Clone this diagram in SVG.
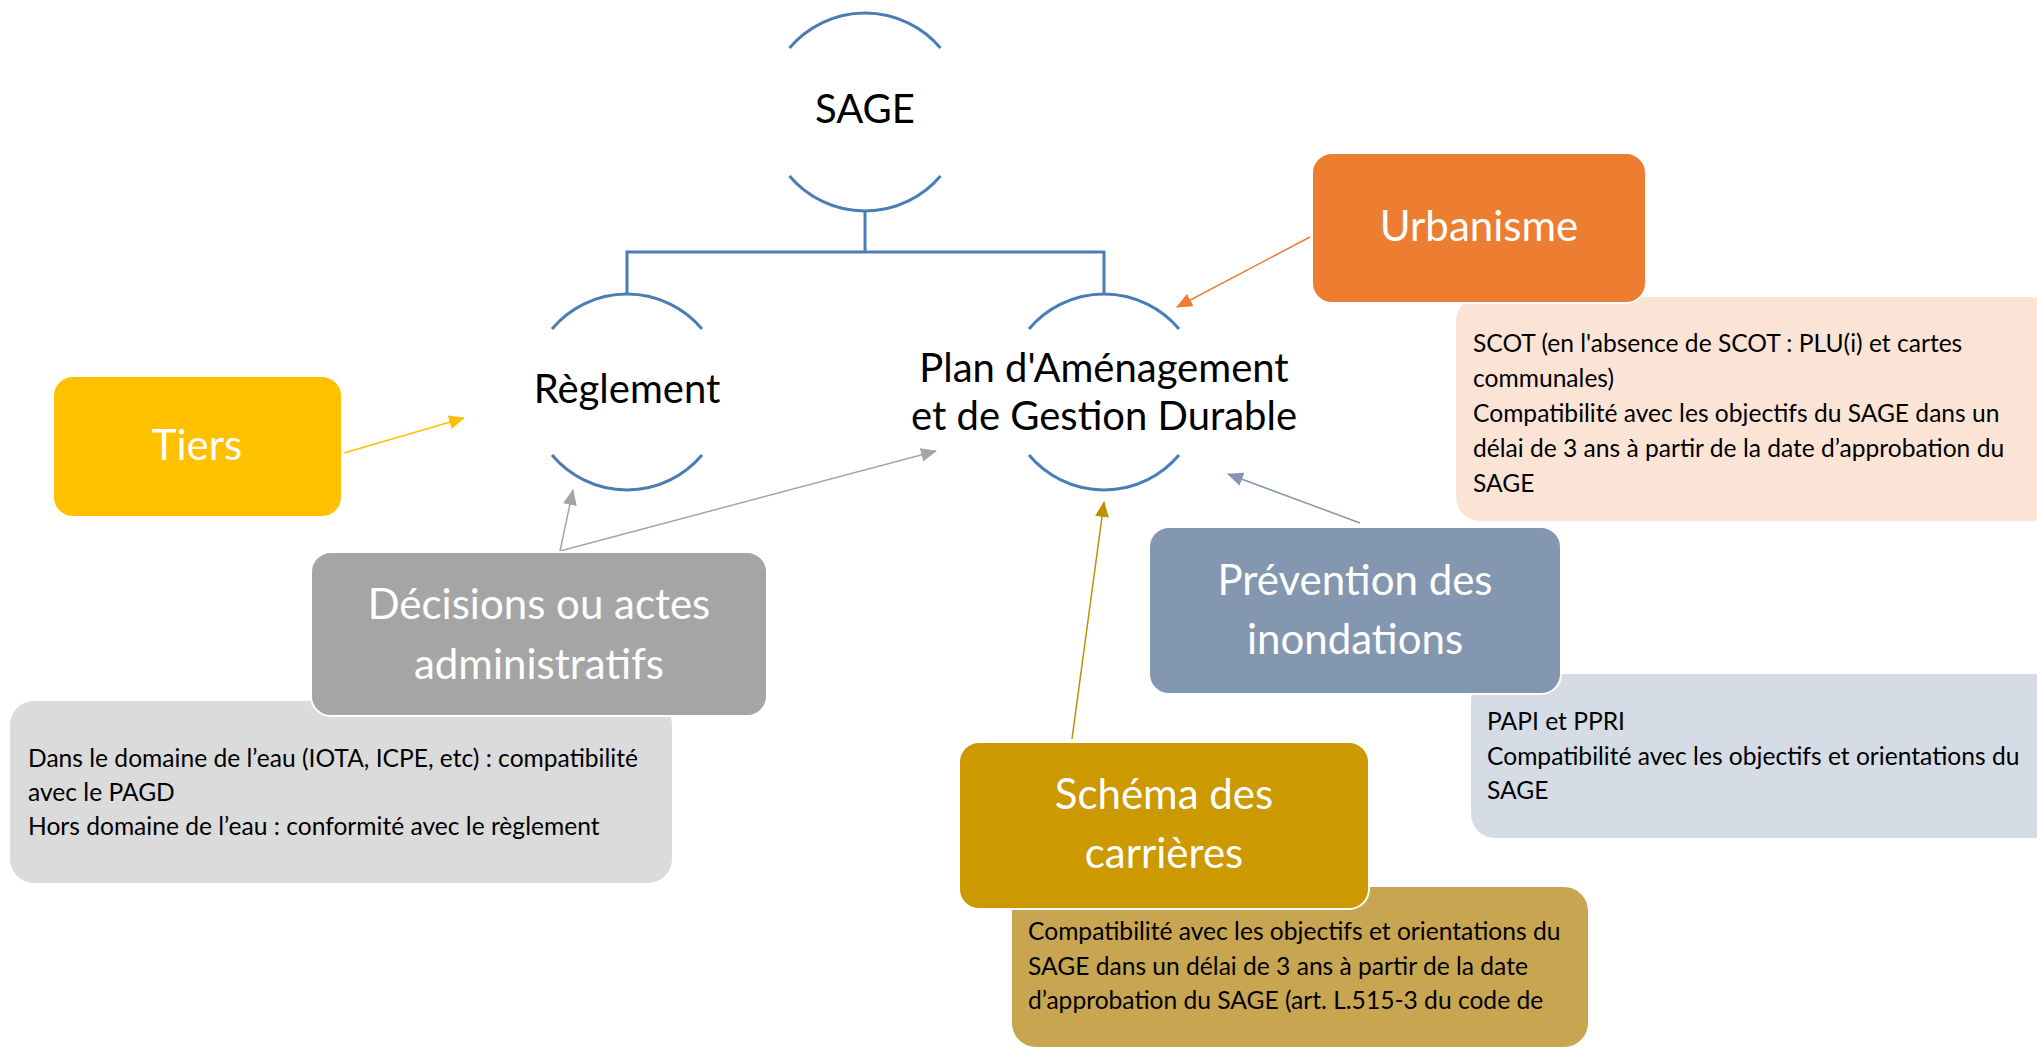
<svg xmlns="http://www.w3.org/2000/svg" width="2037" height="1048" viewBox="0 0 2037 1048">
<style>
.arc{fill:none;stroke:#4A7DB5;stroke-width:3}
.lbl{font-family:Lato,"Liberation Sans",sans-serif;font-size:40px;fill:#000;text-anchor:middle}
.wl{font-family:Lato,"Liberation Sans",sans-serif;font-size:42px;fill:#fff;text-anchor:middle}
.dt{font-family:Lato,"Liberation Sans",sans-serif;font-size:24.6px;fill:#000}
.box{stroke:#fff;stroke-width:2}
.con{fill:none;stroke-width:1.5}
</style>
<defs>
<marker id="mo" markerUnits="userSpaceOnUse" markerWidth="16" markerHeight="14" refX="15" refY="7" orient="auto"><path d="M0,0 L16,7 L0,14 Z" fill="#ED7D31"/></marker>
<marker id="my" markerUnits="userSpaceOnUse" markerWidth="16" markerHeight="14" refX="15" refY="7" orient="auto"><path d="M0,0 L16,7 L0,14 Z" fill="#FFC000"/></marker>
<marker id="mg" markerUnits="userSpaceOnUse" markerWidth="16" markerHeight="14" refX="15" refY="7" orient="auto"><path d="M0,0 L16,7 L0,14 Z" fill="#A5A5A5"/></marker>
<marker id="mb" markerUnits="userSpaceOnUse" markerWidth="16" markerHeight="14" refX="15" refY="7" orient="auto"><path d="M0,0 L16,7 L0,14 Z" fill="#8497B0"/></marker>
<marker id="md" markerUnits="userSpaceOnUse" markerWidth="16" markerHeight="14" refX="15" refY="7" orient="auto"><path d="M0,0 L16,7 L0,14 Z" fill="#BF9000"/></marker>
</defs>
<rect width="2037" height="1048" fill="#fff"/>

<g id="sage">
<path class="arc" d="M789.5,48 A99,99 0 0 1 940.5,48"/>
<path class="arc" d="M789.5,176 A99,99 0 0 0 940.5,176"/>
<text class="lbl" x="865" y="123">SAGE</text>
</g>
<g id="reglement">
<path class="arc" d="M552,329 A98,98 0 0 1 702,329"/>
<path class="arc" d="M552,455 A98,98 0 0 0 702,455"/>
<text class="lbl" x="627" y="403">Règlement</text>
</g>
<g id="pagd">
<path class="arc" d="M1029,329 A98,98 0 0 1 1179,329"/>
<path class="arc" d="M1029,455 A98,98 0 0 0 1179,455"/>
<text class="lbl" x="1104" y="382">Plan d'Aménagement</text>
<text class="lbl" x="1104" y="430">et de Gestion Durable</text>
</g>

<g id="connectors">
<path class="arc" d="M865,211 V252 M627,294 V252 H1104 V294"/>
<path class="con" stroke="#ED7D31" d="M1310,237 L1177,307" marker-end="url(#mo)"/>
<path class="con" stroke="#FFC000" d="M344,453 L464,418" marker-end="url(#my)"/>
<path class="con" stroke="#A5A5A5" d="M560,551 L573,490" marker-end="url(#mg)"/>
<path class="con" stroke="#A5A5A5" d="M560,551 L936,451" marker-end="url(#mg)"/>
<path class="con" stroke="#8497B0" d="M1360,523 L1228,474" marker-end="url(#mb)"/>
<path class="con" stroke="#BF9000" d="M1072,739 L1104,502" marker-end="url(#md)"/>
</g>

<g id="scot-details">
<rect x="1456" y="297" width="600" height="224" rx="24" fill="#FBE4D5"/>
<text class="dt" x="1473" y="352">SCOT (en l'absence de SCOT : PLU(i) et cartes</text>
<text class="dt" x="1473" y="387">communales)</text>
<text class="dt" x="1473" y="422">Compatibilité avec les objectifs du SAGE dans un</text>
<text class="dt" x="1473" y="457">délai de 3 ans à partir de la date d’approbation du</text>
<text class="dt" x="1473" y="492">SAGE</text>
</g>
<g id="urbanisme">
<rect class="box" x="1312" y="153" width="334" height="150" rx="20" fill="#ED7D31"/>
<text class="wl" x="1479" y="241">Urbanisme</text>
</g>

<g id="tiers">
<rect class="box" x="53" y="376" width="289" height="141" rx="20" fill="#FFC000"/>
<text class="wl" x="197" y="460">Tiers</text>
</g>

<g id="decisions-details">
<rect x="10" y="701" width="662" height="182" rx="24" fill="#DBDBDB"/>
<text class="dt" x="28" y="767">Dans le domaine de l’eau (IOTA, ICPE, etc) : compatibilité</text>
<text class="dt" x="28" y="801">avec le PAGD</text>
<text class="dt" x="28" y="835">Hors domaine de l’eau : conformité avec le règlement</text>
</g>
<g id="decisions">
<rect class="box" x="311" y="552" width="456" height="164" rx="20" fill="#A5A5A5"/>
<text class="wl" x="539" y="619">Décisions ou actes</text>
<text class="wl" x="539" y="679">administratifs</text>
</g>

<g id="prevention-details">
<rect x="1471" y="674" width="590" height="164" rx="24" fill="#D6DCE5"/>
<text class="dt" x="1487" y="730">PAPI et PPRI</text>
<text class="dt" x="1487" y="765">Compatibilité avec les objectifs et orientations du</text>
<text class="dt" x="1487" y="799">SAGE</text>
</g>
<g id="prevention">
<rect class="box" x="1149" y="527" width="412" height="167" rx="20" fill="#8497B0"/>
<text class="wl" x="1355" y="595">Prévention des</text>
<text class="wl" x="1355" y="654">inondations</text>
</g>

<g id="schema-details">
<rect x="1012" y="887" width="576" height="160" rx="24" fill="#C8A550"/>
<text class="dt" x="1028" y="940">Compatibilité avec les objectifs et orientations du</text>
<text class="dt" x="1028" y="975">SAGE dans un délai de 3 ans à partir de la date</text>
<text class="dt" x="1028" y="1009">d’approbation du SAGE (art. L.515-3 du code de</text>
</g>
<g id="schema">
<rect class="box" x="959" y="742" width="410" height="167" rx="20" fill="#CC9900"/>
<text class="wl" x="1164" y="809">Schéma des</text>
<text class="wl" x="1164" y="868">carrières</text>
</g>
</svg>
